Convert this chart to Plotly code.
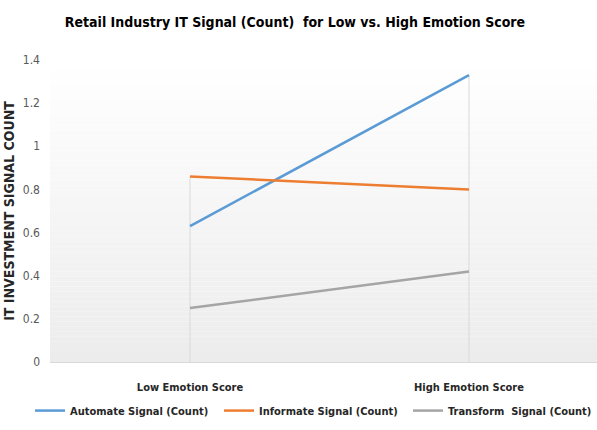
import plotly.graph_objects as go

# Data
categories = ["Low Emotion Score", "High Emotion Score"]
automate = [0.63, 1.33]
informate = [0.86, 0.80]
transform = [0.25, 0.42]
series_names = ["Automate Signal (Count)", "Informate Signal (Count)", "Transform  Signal (Count)"]
series_colors = ["#5B9BD5", "#ED7D31", "#A5A5A5"]
y_ticks = [0, 0.2, 0.4, 0.6, 0.8, 1.0, 1.2, 1.4]
y_tick_text = ["0", "0.2", "0.4", "0.6", "0.8", "1", "1.2", "1.4"]

FONT = "DejaVu Sans Condensed, Roboto, sans-serif"

fig = go.Figure()

# Drop lines from the highest value at each category down to the axis
all_series = [automate, informate, transform]
for i, cat in enumerate(categories):
    top = max(s[i] for s in all_series)
    fig.add_trace(go.Scatter(
        x=[cat, cat], y=[0, top], mode="lines",
        line=dict(color="#D9D9D9", width=1),
        showlegend=False, hoverinfo="skip",
    ))

for name, vals, col in zip(series_names, all_series, series_colors):
    fig.add_trace(go.Scatter(
        x=categories, y=vals, mode="lines", name=f"<b>{name}</b>",
        line=dict(color=col, width=2.5),
    ))

# Vertical gradient for the plot background (white at top to light grey)
n_bands = 60
shapes = []
for k in range(n_bands):
    t = (k + 0.5) / n_bands  # 0 at bottom, 1 at top
    g = int(round(236 + (255 - 236) * t))
    shapes.append(dict(
        type="rect", xref="paper", yref="paper",
        x0=0, x1=1, y0=k / n_bands, y1=(k + 1) / n_bands,
        fillcolor=f"rgb({g},{g},{g})", line=dict(width=0), layer="below",
    ))

PLOT_W = 547
PLOT_H = 301.5

fig.update_layout(
    width=597, height=430,
    margin=dict(l=50, r=0, t=60, b=68),
    paper_bgcolor="white", plot_bgcolor="white",
    shapes=shapes,
    font=dict(family=FONT, color="#262626"),
    title=dict(
        text="<b>Retail Industry IT Signal (Count)  for Low vs. High Emotion Score</b>",
        x=295 / 597, xanchor="center", xref="container",
        y=1 - 22 / 430, yanchor="middle", yref="container",
        font=dict(family=FONT, size=14, color="#000000"),
    ),
    xaxis=dict(
        type="category", range=[-0.502, 1.459],
        showgrid=False, zeroline=False,
        showline=True, linecolor="#D9D9D9", linewidth=1,
        ticks="", tickfont=dict(family=FONT, size=11, color="#262626"),
        tickvals=categories, ticktext=[f"<b>{c}</b>" for c in categories],
        ticklabelstandoff=15,
    ),
    yaxis=dict(
        range=[0, 1.4], tickvals=y_ticks, ticktext=y_tick_text,
        showgrid=False, zeroline=False, showline=False,
        ticks="", tickfont=dict(family=FONT, size=12, color="#595959"),
        ticklabelstandoff=9,
        title=dict(text="<b>IT INVESTMENT SIGNAL COUNT</b>",
                   font=dict(family=FONT, size=14, color="#262626"), standoff=4),
    ),
    legend=dict(
        orientation="h", xref="paper", yref="paper",
        x=-12 / PLOT_W, xanchor="left",
        y=-(410 - 361.5) / PLOT_H, yanchor="middle",
        font=dict(family=FONT, size=11, color="#262626"),
        bgcolor="rgba(0,0,0,0)", itemwidth=30,
        entrywidth=144, entrywidthmode="pixels",
    ),
    showlegend=True,
)

fig.write_html("out.html")
